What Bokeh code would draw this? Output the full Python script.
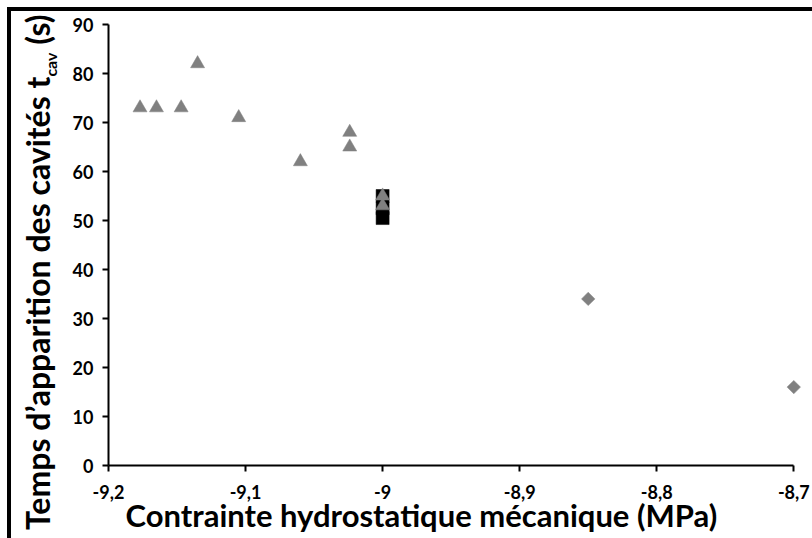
import math
from bokeh.plotting import figure
from bokeh.layouts import row
from bokeh.models import Range1d, FixedTicker, Title, Div
from bokeh.embed import file_html
from bokeh.resources import INLINE

# ---- data ----
x_ticks = [-9.2, -9.1, -9.0, -8.9, -8.8, -8.7]
x_tick_labels = ["-9,2", "-9,1", "-9", "-8,9", "-8,8", "-8,7"]
y_ticks = [0, 10, 20, 30, 40, 50, 60, 70, 80, 90]

tri_x = [-9.177, -9.165, -9.147, -9.135, -9.105, -9.060, -9.024, -9.024, -9.0, -9.0]
tri_y = [73, 73, 73, 82, 71, 62, 68, 65, 55, 53]

sq_x = [-9.0, -9.0, -9.0]
sq_y = [55, 52.5, 50.5]

dia_x = [-8.85, -8.70]
dia_y = [34, 16]

x_title = "Contrainte hydrostatique mécanique (MPa)"
y_title_main = "Temps d’apparition des cavités t"
y_title_sub = "cav"
y_title_end = "(s)"

FONT = "Lato"
GRAY = "#808080"
H = 527
W_TITLE = 58
W_MAIN = 743

# ---- left strip holding the vertical axis title (real HTML text) ----
ytitle_html = (
    '<div style="transform-origin:0 0; transform:translate(11px,519px) rotate(-90deg);'
    ' white-space:nowrap; font-family:Lato; font-weight:bold; font-size:32px;'
    ' line-height:1; color:black; width:max-content;">'
    f'{y_title_main}<span style="font-size:16px; vertical-align:-7px;">{y_title_sub}</span>'
    f' {y_title_end}</div>'
)
ydiv = Div(text=ytitle_html, width=W_TITLE, height=H, margin=0,
           styles={"overflow": "visible"})

# ---- main plot ----
p = figure(width=W_MAIN, height=H, output_backend="svg", toolbar_location=None,
           x_range=Range1d(-9.2, -8.69), y_range=Range1d(0, 90),
           min_border_left=37, min_border_right=5, min_border_top=13,
           min_border_bottom=73, background_fill_color="white",
           border_fill_color="white")
p.grid.visible = False
p.outline_line_color = None

for ax in (p.xaxis, p.yaxis):
    ax.axis_line_color = "black"
    ax.axis_line_width = 2
    ax.major_tick_line_color = "black"
    ax.major_tick_line_width = 2
    ax.major_tick_out = 6
    ax.major_tick_in = 0
    ax.minor_tick_line_color = None
    ax.major_label_text_font = FONT
    ax.major_label_text_font_style = "bold"
    ax.major_label_text_font_size = "18px"
    ax.major_label_text_color = "black"

p.xaxis.ticker = FixedTicker(ticks=x_ticks)
p.xaxis.bounds = (x_ticks[0], x_ticks[-1])
p.xaxis.major_label_overrides = dict(zip(x_ticks, x_tick_labels))
p.xaxis.major_label_standoff = 13
p.yaxis.ticker = FixedTicker(ticks=y_ticks)
p.yaxis.major_label_standoff = 9

p.scatter(sq_x, sq_y, marker="square", size=13, fill_color="black",
          line_color="black", line_width=0.5)
p.scatter(tri_x, tri_y, marker="triangle", size=14, fill_color=GRAY,
          line_color=GRAY, line_width=0.5)
p.scatter(dia_x, dia_y, marker="square", angle=math.pi / 4, size=9.5,
          fill_color=GRAY, line_color=GRAY, line_width=0.5)

p.add_layout(Title(text=x_title, align="left", offset=17, standoff=-15,
                   text_font=FONT, text_font_style="bold",
                   text_font_size="31px", text_color="black"), "below")

layout = row(ydiv, p, spacing=0)
layout.styles = {"margin-left": "7px", "margin-top": "7px",
                 "border-top": "4px solid black",
                 "border-left": "4px solid black"}

open("out.html", "w").write(file_html(layout, INLINE))
